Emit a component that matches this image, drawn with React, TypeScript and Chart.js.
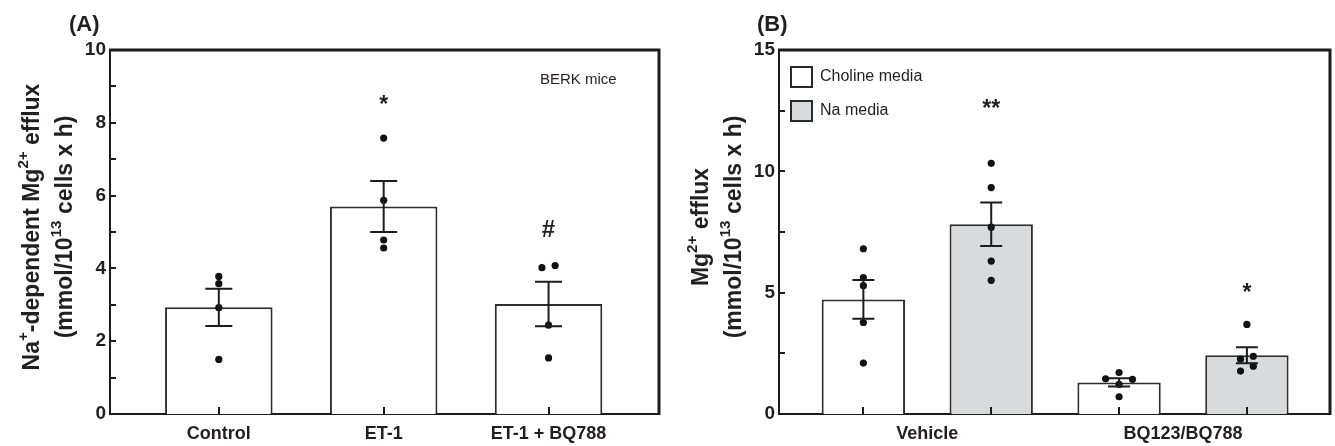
import React, { useEffect, useRef } from 'react';
import { Chart, registerables } from 'chart.js';

Chart.register(...registerables);

const FONT = "'Liberation Sans', Arial, Helvetica, sans-serif";
const INK = '#231f20';

// ---------- Panel A data ----------
const categoriesA = ['Control', 'ET-1', 'ET-1 + BQ788'];
const meansA = [2.93, 5.7, 3.02];
const semA = [0.51, 0.7, 0.61];
const pointsA = [
  [3.78, 3.58, 2.92, 1.5],
  [7.58, 5.87, 4.78, 4.56],
  [4.02, 4.08, 2.44, 1.54],
];
const jitterA = [
  [0, 0, 0, 0],
  [0, 0, 0, 0],
  [-0.04, 0.04, 0, 0],
];
const marksA = ['', '*', '#'];
const markValueA = [0, 8.65, 5.1];
const yMaxA = 10;
const yStepA = 1;
const yLabelEveryA = 2;
const noteA = 'BERK mice';

// ---------- Panel B data ----------
const groupsB = ['Vehicle', 'BQ123/BQ788'];
const mediaB = ['Choline media', 'Na media'];
const cholineMeans = [4.72, 1.3];
const cholineSem = [0.8, 0.17];
const naMeans = [7.82, 2.42];
const naSem = [0.9, 0.33];
const cholinePoints = [
  [6.81, 5.62, 5.29, 3.77, 2.1],
  [1.71, 1.45, 1.43, 1.22, 0.71],
];
const cholineJitter = [
  [0, 0, 0, 0, 0],
  [0, -0.105, 0.105, 0, 0],
];
const naPoints = [
  [10.33, 9.33, 7.7, 6.3, 5.51],
  [3.69, 2.26, 2.38, 1.77, 1.97],
];
const naJitter = [
  [0, 0, 0, 0, 0],
  [0, -0.05, 0.05, -0.05, 0.05],
];
const naMarks = ['**', '*'];
const naMarkValue = [12.8, 5.2];
const yMaxB = 15;
const yStepB = 2.5;
const yLabelEveryB = 5;

type Seg = [string, boolean];
type Series = { label: string; fill: string; xs: number[]; ys: number[]; sems: number[] };
type Spec = {
  xMin: number;
  xMax: number;
  yMax: number;
  yStep: number;
  yLabelEvery: number;
  series: Series[];
  points: { x: number; y: number }[];
  labelTicks: number[];
  labels: string[];
  marks: { x: number; y: number; text: string }[];
  yTitle: Seg[][];
  panelLabel: string;
  panelLabelX: number;
  capWidth: number;
  axisWidth: number;
  padRight: number;
  note?: string;
  legend?: boolean;
};

function drawRich(ctx: CanvasRenderingContext2D, segs: Seg[], cx: number, cy: number, size: number) {
  const widths = segs.map(([t, sup]) => {
    ctx.font = `bold ${sup ? size * 0.66 : size}px ${FONT}`;
    return ctx.measureText(t).width;
  });
  const total = widths.reduce((a, b) => a + b, 0);
  ctx.save();
  ctx.translate(cx, cy);
  ctx.rotate(-Math.PI / 2);
  ctx.textBaseline = 'middle';
  ctx.textAlign = 'left';
  ctx.fillStyle = INK;
  let xx = -total / 2;
  segs.forEach(([t, sup], i) => {
    ctx.font = `bold ${sup ? size * 0.66 : size}px ${FONT}`;
    ctx.fillText(t, xx, sup ? -size * 0.4 : 0);
    xx += widths[i];
  });
  ctx.restore();
}

function decoPlugin(spec: Spec) {
  return {
    id: 'panelDeco',
    afterDatasetsDraw(chart: any) {
      const { ctx, scales } = chart;
      const x = scales.x;
      const y = scales.y;
      ctx.save();
      ctx.strokeStyle = '#1c1c1c';
      ctx.lineWidth = 2;
      spec.series.forEach((s) => {
        s.xs.forEach((xv, i) => {
          const px = x.getPixelForValue(xv);
          const yt = y.getPixelForValue(s.ys[i] + s.sems[i]);
          const yb = y.getPixelForValue(s.ys[i] - s.sems[i]);
          const h = spec.capWidth / 2;
          ctx.beginPath();
          ctx.moveTo(px, yt);
          ctx.lineTo(px, yb);
          ctx.moveTo(px - h, yt);
          ctx.lineTo(px + h, yt);
          ctx.moveTo(px - h, yb);
          ctx.lineTo(px + h, yb);
          ctx.stroke();
        });
      });
      // significance marks
      ctx.fillStyle = INK;
      ctx.textAlign = 'center';
      ctx.textBaseline = 'alphabetic';
      spec.marks.forEach((m) => {
        if (!m.text) return;
        ctx.font = `bold ${m.text === '#' ? 24 : 23}px ${FONT}`;
        const mt = ctx.measureText(m.text);
        const cy = y.getPixelForValue(m.y);
        const base = cy + (mt.actualBoundingBoxAscent - mt.actualBoundingBoxDescent) / 2;
        ctx.fillText(m.text, x.getPixelForValue(m.x), base);
      });
      ctx.restore();
    },
    afterDraw(chart: any) {
      const { ctx, chartArea: a, scales } = chart;
      const x = scales.x;
      const y = scales.y;
      ctx.save();
      ctx.strokeStyle = '#1c1c1c';
      // y ticks (inside)
      ctx.lineWidth = 2;
      y.ticks.forEach((t: any) => {
        const py = Math.round(y.getPixelForValue(t.value));
        ctx.beginPath();
        ctx.moveTo(a.left, py);
        ctx.lineTo(a.left + 6, py);
        ctx.stroke();
      });
      // x ticks (inside) at bar centres
      spec.series.forEach((s) =>
        s.xs.forEach((xv) => {
          const px = Math.round(x.getPixelForValue(xv));
          ctx.beginPath();
          ctx.moveTo(px, a.bottom);
          ctx.lineTo(px, a.bottom - 7);
          ctx.stroke();
        })
      );
      // top & right frame
      ctx.lineWidth = 3;
      ctx.beginPath();
      ctx.moveTo(a.left - 1, a.top);
      ctx.lineTo(a.right, a.top);
      ctx.lineTo(a.right, a.bottom + 1);
      ctx.stroke();
      // panel label
      ctx.fillStyle = INK;
      ctx.font = `bold 22px ${FONT}`;
      ctx.textAlign = 'left';
      ctx.textBaseline = 'alphabetic';
      ctx.fillText(spec.panelLabel, spec.panelLabelX, 31);
      // y title
      const cy = (a.top + a.bottom) / 2 - 5;
      drawRich(ctx, spec.yTitle[0], a.left - 77, cy, 23);
      drawRich(ctx, spec.yTitle[1], a.left - 44, cy, 23);
      // note
      if (spec.note) {
        ctx.font = `15px ${FONT}`;
        ctx.textBaseline = 'middle';
        ctx.fillText(spec.note, a.right - 119, a.top + 30);
      }
      // legend
      if (spec.legend) {
        spec.series.forEach((s, i) => {
          const bx = a.left + 12;
          const by = a.top + 17 + i * 34;
          ctx.fillStyle = s.fill;
          ctx.fillRect(bx, by, 21, 20);
          ctx.lineWidth = 2;
          ctx.strokeStyle = '#2a2a2a';
          ctx.strokeRect(bx, by, 21, 20);
          ctx.fillStyle = INK;
          ctx.font = `16px ${FONT}`;
          ctx.textBaseline = 'middle';
          ctx.fillText(s.label, a.left + 41, by + 10);
        });
      }
      ctx.restore();
    },
  };
}

function buildChart(canvas: HTMLCanvasElement, spec: Spec) {
  const barSets = spec.series.map((s) => ({
    type: 'bar' as const,
    label: s.label,
    data: s.xs.map((xv, i) => ({ x: xv, y: s.ys[i] })),
    backgroundColor: s.fill,
    borderColor: '#2e2e2e',
    borderWidth: 2,
    barPercentage: 0.652,
    categoryPercentage: 1,
    grouped: false,
    order: 1,
  }));
  const pointSet = {
    type: 'scatter' as const,
    label: 'points',
    data: spec.points,
    pointRadius: 3.6,
    pointBackgroundColor: '#111',
    pointBorderWidth: 0,
    order: 0,
  };
  return new Chart(canvas, {
    type: 'bar',
    data: { datasets: [pointSet as any, ...barSets] },
    plugins: [decoPlugin(spec)],
    options: {
      animation: false,
      responsive: false,
      events: [],
      layout: { padding: { top: 50, right: spec.padRight, left: 0, bottom: 0 } },
      plugins: { legend: { display: false }, tooltip: { enabled: false } },
      scales: {
        x: {
          type: 'linear',
          min: spec.xMin,
          max: spec.xMax,
          offset: false,
          bounds: 'data',
          grid: { display: false, drawTicks: false, offset: false },
          border: { display: true, width: 2, color: '#1c1c1c' },
          afterBuildTicks: (s: any) => {
            s.ticks = spec.labelTicks.map((v) => ({ value: v }));
          },
          afterFit: (s: any) => {
            s.height = 32;
          },
          ticks: {
            autoSkip: false,
            maxRotation: 0,
            padding: 9,
            color: INK,
            font: { family: FONT, size: 18, weight: 'bold' },
            callback: (_v: any, i: number) => spec.labels[i],
          },
        },
        y: {
          type: 'linear',
          min: 0,
          max: spec.yMax,
          grid: { display: false, drawTicks: false },
          border: { display: true, width: 2, color: '#1c1c1c' },
          afterFit: (s: any) => {
            s.width = spec.axisWidth;
          },
          ticks: {
            stepSize: spec.yStep,
            autoSkip: false,
            padding: 4,
            color: INK,
            font: { family: FONT, size: 19, weight: 'bold' },
            callback: (v: any) => (Math.abs(v % spec.yLabelEvery) < 1e-9 ? String(v) : ''),
          },
        },
      },
    } as any,
  });
}

const specA: Spec = {
  xMin: -0.66,
  xMax: 2.67,
  yMax: yMaxA,
  yStep: yStepA,
  yLabelEvery: yLabelEveryA,
  series: [
    {
      label: 'bars',
      fill: '#ffffff',
      xs: categoriesA.map((_, i) => i),
      ys: meansA,
      sems: semA,
    },
  ],
  points: pointsA.flatMap((vals, i) => vals.map((v, j) => ({ x: i + jitterA[i][j], y: v }))),
  labelTicks: categoriesA.map((_, i) => i),
  labels: categoriesA,
  marks: marksA.map((t, i) => ({ x: i, y: markValueA[i], text: t })),
  yTitle: [
    [
      ['Na', false],
      ['+', true],
      ['-dependent Mg', false],
      ['2+', true],
      [' efflux', false],
    ],
    [
      ['(mmol/10', false],
      ['13', true],
      [' cells x h)', false],
    ],
  ],
  panelLabel: '(A)',
  panelLabelX: 69,
  capWidth: 27,
  axisWidth: 110,
  padRight: 8,
  note: noteA,
};

const specB: Spec = {
  xMin: -0.66,
  xMax: 3.65,
  yMax: yMaxB,
  yStep: yStepB,
  yLabelEvery: yLabelEveryB,
  series: [
    {
      label: mediaB[0],
      fill: '#ffffff',
      xs: groupsB.map((_, g) => g * 2),
      ys: cholineMeans,
      sems: cholineSem,
    },
    {
      label: mediaB[1],
      fill: '#d9dadc',
      xs: groupsB.map((_, g) => g * 2 + 1),
      ys: naMeans,
      sems: naSem,
    },
  ],
  points: [
    ...cholinePoints.flatMap((vals, g) => vals.map((v, j) => ({ x: g * 2 + cholineJitter[g][j], y: v }))),
    ...naPoints.flatMap((vals, g) => vals.map((v, j) => ({ x: g * 2 + 1 + naJitter[g][j], y: v }))),
  ],
  labelTicks: groupsB.map((_, g) => g * 2 + 0.5),
  labels: groupsB,
  marks: naMarks.map((t, g) => ({ x: g * 2 + 1, y: naMarkValue[g], text: t })),
  yTitle: [
    [
      ['Mg', false],
      ['2+', true],
      [' efflux', false],
    ],
    [
      ['(mmol/10', false],
      ['13', true],
      [' cells x h)', false],
    ],
  ],
  panelLabel: '(B)',
  panelLabelX: 90,
  capWidth: 22,
  axisWidth: 112,
  padRight: 5,
  legend: true,
};

function Panel({ spec, left, width }: { spec: Spec; left: number; width: number }) {
  const ref = useRef<HTMLCanvasElement | null>(null);
  useEffect(() => {
    if (!ref.current) return;
    const chart = buildChart(ref.current, spec);
    return () => chart.destroy();
  }, [spec]);
  return (
    <canvas
      ref={ref}
      width={width}
      height={446}
      style={{ position: 'absolute', left, top: 0, width, height: 446 }}
    />
  );
}

export default function App() {
  return (
    <div style={{ position: 'absolute', left: 0, top: 0, width: 1335, height: 446, background: '#fff' }}>
      <Panel spec={specA} left={0} width={667} />
      <Panel spec={specB} left={667} width={668} />
    </div>
  );
}
